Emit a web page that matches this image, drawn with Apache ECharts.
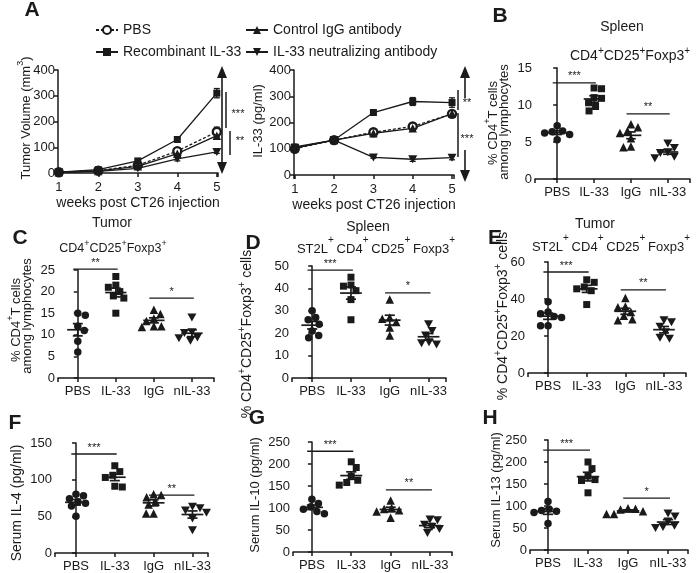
<!DOCTYPE html>
<html><head><meta charset="utf-8">
<script src="https://cdn.jsdelivr.net/npm/echarts@6/dist/echarts.min.js"></script>
<style>html,body{margin:0;padding:0;background:#fff}#c{width:696px;height:573px}</style>
</head><body><div id="c"></div>
<script>
const FONT = "'Liberation Sans', Arial, Helvetica, sans-serif";
const INK = '#1a1a1a';

// ---------- Panel A data ----------
const weeks = [1, 2, 3, 4, 5];
const lineNames = ['PBS', 'Recombinant IL-33', 'Control IgG antibody', 'IL-33 neutralizing antibody'];
const tumorPBS = [3, 9, 30, 85, 160];
const tumorPBSErr = [1, 2, 5, 10, 18];
const tumorIL33 = [3, 13, 47, 130, 310];
const tumorIL33Err = [1, 2, 5, 10, 18];
const tumorIgG = [3, 8, 26, 75, 145];
const tumorIgGErr = [1, 2, 4, 8, 12];
const tumorNIL33 = [2, 6, 18, 55, 82];
const tumorNIL33Err = [1, 1, 3, 8, 6];

const il33PBS = [100, 133, 163, 185, 233];
const il33PBSErr = [8, 5, 8, 10, 10];
const il33IL33 = [107, 133, 238, 280, 276];
const il33IL33Err = [8, 8, 8, 15, 18];
const il33IgG = [103, 133, 159, 178, 234];
const il33IgGErr = [8, 5, 10, 10, 10];
const il33NIL33 = [103, 133, 67, 60, 66];
const il33NIL33Err = [8, 5, 3, 8, 8];

// ---------- Dot plot data (PBS, IL-33, IgG, nIL-33) ----------
const groups = ['PBS', 'IL-33', 'IgG', 'nIL-33'];
const spleenTreg = [[7.2, 6.5, 6.4, 6.2, 6.0, 5.3], [12.3, 12.2, 11.0, 10.9, 10.3, 9.8, 9.2], [7.4, 7.0, 6.5, 6.2, 5.5, 4.4, 4.3], [4.8, 4.2, 3.6, 3.5, 3.0, 2.8]];
const spleenTregSig = [[0, 1, 13.0, '***'], [2, 3, 8.8, '**']];
const tumorTreg = [[15, 14.5, 12, 11, 8.5, 6], [23.5, 21.5, 21, 20, 19, 18.5, 15], [15.8, 14.8, 13.8, 13.2, 12, 12, 11.8], [14, 10.6, 10.4, 9.4, 9.2, 8.6]];
const tumorTregSig = [[0, 1, 25.2, '**'], [2, 3, 18.5, '*']];
const spleenST2 = [[30, 27, 26, 24, 21, 19, 18], [45, 41.5, 41, 39, 35, 26], [35, 27, 26.5, 25, 22.5, 19], [24, 21, 19, 16, 15.5, 15]];
const spleenST2Sig = [[0, 1, 48.2, '***'], [2, 3, 38, '*']];
const tumorST2 = [[38.5, 33, 32, 30.5, 30, 25.5, 25.5], [50.4, 49, 46.5, 45.5, 44.5, 37], [40.5, 36, 35.5, 33, 31, 29, 28.5], [28.5, 27.5, 25, 22, 19, 18.5]];
const tumorST2Sig = [[0, 1, 54.6, '***'], [2, 3, 44.9, '**']];
const serumIL4 = [[80, 78, 74, 70, 68, 64, 50], [119, 111, 106, 103, 91, 90], [80, 79, 76, 70, 66, 54, 54], [63, 61, 58, 55, 47, 31]];
const serumIL4Sig = [[0, 1, 135, '***'], [2, 3, 79, '**']];
const serumIL10 = [[120, 110, 103, 97, 92, 87], [205, 192, 172, 163, 158, 152], [117, 100, 98, 95, 92, 78], [74, 72, 62, 57, 52, 43]];
const serumIL10Sig = [[0, 1, 229, '***'], [2, 3, 141, '**']];
const serumIL13 = [[110, 93, 90, 88, 85, 60], [200, 185, 168, 160, 158, 130], [95, 94, 92, 88, 82, 82], [83, 76, 65, 55, 52, 50]];
const serumIL13Sig = [[0, 1, 227, '***'], [2, 3, 118, '*']];

// y-axis ticks per panel: [max, interval]
const yTicks = [[400, 100], [400, 100], [15, 5], [25, 5], [50, 10], [60, 20], [150, 50], [250, 50], [250, 50]];

// ---------- layout ----------
const layouts = [
  { left: 58, top: 70, width: 160, height: 103 },
  { left: 294, top: 70, width: 160, height: 105 },
  { left: 535, top: 68, width: 155, height: 111 },
  { left: 58, top: 270, width: 156, height: 108 },
  { left: 292, top: 266, width: 154, height: 112 },
  { left: 528, top: 262, width: 158, height: 111 },
  { left: 55, top: 443, width: 153, height: 110 },
  { left: 293, top: 442, width: 159, height: 110 },
  { left: 530, top: 440, width: 158, height: 110 }
];
const xRanges = [[0.98, 5.03], [0.98, 5.05], [-0.6, 3.6], [-0.52, 3.58], [-0.52, 3.45], [-0.52, 3.57], [-0.54, 3.4], [-0.48, 3.56], [-0.45, 3.5]];

const DOWN = 'path://M0,0L10,0L5,9Z';
const groupSymbols = ['circle', 'rect', 'triangle', DOWN];
const groupSizes = [7.5, 7, 8.5, [9, 8]];

const chart = echarts.init(document.getElementById('c'), null, { renderer: 'canvas' });

const grids = layouts.map(l => ({ left: l.left, top: l.top, width: l.width, height: l.height, containLabel: false }));

const axisLineStyle = { show: true, lineStyle: { color: INK, width: 1.5 } };
const axisTickStyle = { show: true, length: 4, inside: false, lineStyle: { color: INK, width: 1.5 } };

const xAxes = layouts.map((l, i) => ({
  type: 'value', gridIndex: i, min: xRanges[i][0], max: xRanges[i][1],
  minInterval: 1, maxInterval: 1,
  axisLine: axisLineStyle, axisTick: axisTickStyle, splitLine: { show: false },
  axisLabel: {
    color: INK, fontSize: 13, fontFamily: FONT, margin: i < 2 ? 8 : 7,
    formatter: v => {
      if (Math.abs(v - Math.round(v)) > 1e-6) return '';
      const r = Math.round(v);
      if (i < 2) return String(r);
      return (r >= 0 && r < 4) ? groups[r] : '';
    }
  },
  name: i < 2 ? 'weeks post CT26 injection' : '',
  nameLocation: 'middle', nameGap: 23,
  nameTextStyle: { color: INK, fontSize: 14, fontFamily: FONT }
}));

const yAxes = layouts.map((l, i) => ({
  type: 'value', gridIndex: i, min: 0, max: yTicks[i][0], interval: yTicks[i][1],
  axisLine: axisLineStyle, axisTick: axisTickStyle, splitLine: { show: false },
  axisLabel: { color: INK, fontSize: 13, fontFamily: FONT, margin: 3 }
}));

// ---------- helpers ----------
function meanSem(arr) {
  const n = arr.length;
  const m = arr.reduce((a, b) => a + b, 0) / n;
  const sd = Math.sqrt(arr.reduce((a, b) => a + (b - m) * (b - m), 0) / (n - 1));
  return [m, sd / Math.sqrt(n)];
}

function swarm(vals, center, gi) {
  const L = layouts[gi], xr = xRanges[gi];
  const pxX = L.width / (xr[1] - xr[0]);
  const pxY = L.height / yTicks[gi][0];
  const D = 7.5;
  const placed = [];
  return vals.map((v, k) => {
    const py = v * pxY;
    let best = 0;
    outer:
    for (let s = 0; s <= 40; s += 0.5) {
      const cands = s === 0 ? [0] : (k % 2 ? [s, -s] : [-s, s]);
      for (const off of cands) {
        if (placed.every(p => Math.hypot(p[0] - off, p[1] - py) >= D)) { best = off; break outer; }
      }
    }
    placed.push([best, py]);
    return [center + best / pxX, v];
  });
}

function errRender(params, api) {
  const x = api.value(0), y = api.value(1), e = api.value(2);
  const t = api.coord([x, y + e]), b = api.coord([x, y - e]);
  const w = 3;
  const st = { stroke: INK, lineWidth: 1.3 };
  return {
    type: 'group', children: [
      { type: 'line', shape: { x1: t[0], y1: t[1], x2: b[0], y2: b[1] }, style: st },
      { type: 'line', shape: { x1: t[0] - w, y1: t[1], x2: t[0] + w, y2: t[1] }, style: st },
      { type: 'line', shape: { x1: b[0] - w, y1: b[1], x2: b[0] + w, y2: b[1] }, style: st }
    ]
  };
}

function meanRender(params, api) {
  const x = api.value(0), m = api.value(1), s = api.value(2);
  const c = api.coord([x, m]);
  const t = api.coord([x, m + s]), b = api.coord([x, m - s]);
  const hw = api.size([0.28, 0])[0];
  const cw = api.size([0.13, 0])[0];
  const st = { stroke: INK, lineWidth: 1.7 };
  return {
    type: 'group', children: [
      { type: 'line', shape: { x1: c[0] - hw, y1: c[1], x2: c[0] + hw, y2: c[1] }, style: st },
      { type: 'line', shape: { x1: c[0], y1: t[1], x2: c[0], y2: b[1] }, style: st },
      { type: 'line', shape: { x1: c[0] - cw, y1: t[1], x2: c[0] + cw, y2: t[1] }, style: st },
      { type: 'line', shape: { x1: c[0] - cw, y1: b[1], x2: c[0] + cw, y2: b[1] }, style: st }
    ]
  };
}

function sigRenderFor(sig) {
  return function (params, api) {
    const row = sig[params.dataIndex];
    const a = api.coord([row[0] - 0.12, row[2]]);
    const b = api.coord([row[1] + 0.05, row[2]]);
    return {
      type: 'group', children: [
        { type: 'line', shape: { x1: a[0], y1: a[1], x2: b[0], y2: b[1] }, style: { stroke: INK, lineWidth: 1.3 } },
        { type: 'text', x: (a[0] + b[0]) / 2, y: a[1] - 1, style: { text: row[3], fill: INK, fontSize: 11, fontFamily: FONT, textAlign: 'center', textVerticalAlign: 'bottom' } }
      ]
    };
  };
}

// ---------- series ----------
const series = [];
const lineSets = [
  [[tumorPBS, tumorPBSErr], [tumorIL33, tumorIL33Err], [tumorIgG, tumorIgGErr], [tumorNIL33, tumorNIL33Err]],
  [[il33PBS, il33PBSErr], [il33IL33, il33IL33Err], [il33IgG, il33IgGErr], [il33NIL33, il33NIL33Err]]
];
const lineSymbols = ['circle', 'rect', 'triangle', DOWN];
const lineSymbolSizes = [8, 7, 8.5, [9, 8]];
lineSets.forEach((set, gi) => {
  set.forEach((pair, si) => {
    const [vals, errs] = pair;
    series.push({
      type: 'custom', xAxisIndex: gi, yAxisIndex: gi, renderItem: errRender, clip: false, silent: true, z: 2,
      data: weeks.map((w, k) => [w, vals[k], errs[k]])
    });
    series.push({
      type: 'line', name: lineNames[si], xAxisIndex: gi, yAxisIndex: gi, z: 3,
      data: weeks.map((w, k) => [w, vals[k]]),
      symbol: lineSymbols[si], symbolSize: lineSymbolSizes[si], showAllSymbol: true,
      lineStyle: { color: INK, width: 1.3, type: si === 0 ? [3, 2] : 'solid' },
      itemStyle: si === 0 ? { color: '#ffffff', borderColor: INK, borderWidth: 2.4, opacity: 1 } : { color: INK, borderWidth: 0, opacity: 1 }
    });
  });
});

const dotPanels = [
  [2, spleenTreg, spleenTregSig], [3, tumorTreg, tumorTregSig], [4, spleenST2, spleenST2Sig],
  [5, tumorST2, tumorST2Sig], [6, serumIL4, serumIL4Sig], [7, serumIL10, serumIL10Sig], [8, serumIL13, serumIL13Sig]
];
dotPanels.forEach(([gi, data, sig]) => {
  data.forEach((vals, g) => {
    series.push({
      type: 'scatter', name: 'p' + gi + '-' + groups[g], xAxisIndex: gi, yAxisIndex: gi, z: 3,
      symbol: groupSymbols[g], symbolSize: groupSizes[g],
      itemStyle: { color: INK, opacity: 1 },
      data: swarm(vals, g, gi)
    });
  });
  series.push({
    type: 'custom', xAxisIndex: gi, yAxisIndex: gi, renderItem: meanRender, clip: false, silent: true, z: 4,
    data: data.map((vals, g) => { const ms = meanSem(vals); return [g, ms[0], ms[1]]; })
  });
  series.push({
    type: 'custom', xAxisIndex: gi, yAxisIndex: gi, renderItem: sigRenderFor(sig), clip: false, silent: true, z: 4,
    data: sig.map(r => [r[0], r[2], r[1]])
  });
});

// ---------- text / annotations ----------
function rich(fs, supFs, lh, supLh) {
  return {
    n: { fontSize: fs, fontFamily: FONT, color: INK, lineHeight: lh },
    s: { fontSize: supFs, fontFamily: FONT, color: INK, lineHeight: supLh, verticalAlign: 'top' }
  };
}
function T(x, y, text, fs, opts) {
  opts = opts || {};
  return {
    type: 'text', x: x, y: y, rotation: opts.rot ? Math.PI / 2 : 0, silent: true,
    style: {
      text: text, fill: INK, fontSize: fs, fontFamily: FONT, fontWeight: opts.bold ? 'bold' : 'normal',
      textAlign: 'center', textVerticalAlign: 'middle', rich: opts.rich
    }
  };
}
const R1 = rich(14, 10, 20, 8);
const R2 = rich(13, 10, 28, 6);
const R12 = rich(12.5, 9, 20, 8);
const R13 = rich(13, 9, 20, 8);

const graphics = [
  T(32, 10, 'A', 21, { bold: true }), T(500, 16, 'B', 21, { bold: true }), T(20, 238, 'C', 21, { bold: true }),
  T(253, 243, 'D', 21, { bold: true }), T(495, 238, 'E', 21, { bold: true }), T(15, 423, 'F', 21, { bold: true }),
  T(257, 418, 'G', 21, { bold: true }), T(490, 418, 'H', 21, { bold: true }),
  // titles
  T(622, 27, 'Spleen', 14), T(630, 56, '{n|CD4}{s|+}{n|CD25}{s|+}{n|Foxp3}{s|+}', 14, { rich: R1 }),
  T(112, 223, 'Tumor', 14), T(113, 249, '{n|CD4}{s|+}{n|CD25}{s|+}{n|Foxp3}{s|+}', 12.5, { rich: R12 }),
  T(368, 227, 'Spleen', 14), T(376, 249, '{n|ST2L}{s|+ }{n|CD4}{s|+ }{n|CD25}{s|+ }{n|Foxp3}{s|+}', 13, { rich: R2 }),
  T(595, 224, 'Tumor', 14), T(611, 247, '{n|ST2L}{s|+ }{n|CD4}{s|+ }{n|CD25}{s|+ }{n|Foxp3}{s|+}', 13, { rich: R2 }),
  // y-axis names
  T(26, 118, '{n|Tumor Volume (mm}{s|3}{n|)}', 13, { rot: true, rich: R13 }),
  T(258, 121, 'IL-33 (pg/ml)', 13, { rot: true }),
  T(493, 123, '{n|% CD4}{s|+}{n|T cells}', 13, { rot: true, rich: R13 }),
  T(504, 122, 'among lymphocytes', 13, { rot: true }),
  T(16, 320, '{n|% CD4}{s|+}{n|T cells}', 13, { rot: true, rich: R13 }),
  T(27, 316, 'among lymphocytes', 13, { rot: true }),
  T(247, 334, '{n|% CD4}{s|+}{n|CD25}{s|+}{n|Foxp3}{s|+}{n| cells}', 14, { rot: true, rich: R1 }),
  T(503, 316, '{n|% CD4}{s|+}{n|CD25}{s|+}{n|Foxp3}{s|+}{n| cells}', 14, { rot: true, rich: R1 }),
  T(17, 503, 'Serum IL-4 (pg/ml)', 14, { rot: true }),
  T(255, 495, 'Serum IL-10 (pg/ml)', 13, { rot: true }),
  T(496, 490, 'Serum IL-13 (pg/ml)', 13, { rot: true })
];

function L(x1, y1, x2, y2, w) {
  return { type: 'line', silent: true, shape: { x1, y1, x2, y2 }, style: { stroke: INK, lineWidth: w || 1.5 } };
}
function head(x, tipY, dir) {
  return { type: 'polygon', silent: true, shape: { points: [[x, tipY], [x - 5, tipY - dir * 12], [x + 5, tipY - dir * 12]] }, style: { fill: INK } };
}
// panel A left annotations
graphics.push(L(222, 72, 222, 168, 1.6), head(222, 66, -1), head(222, 174, 1));
graphics.push(L(226, 92, 226, 128), L(230, 131, 230, 155));
graphics.push(T(238, 114, '***', 11), T(240, 141, '**', 11));
// panel A right annotations
graphics.push(L(465, 72, 465, 98, 1.6), head(465, 66, -1));
graphics.push(L(465, 150, 465, 176, 1.6), head(465, 182, 1));
graphics.push(L(458, 90, 458, 110), L(458, 113, 458, 157));
graphics.push(T(467, 103, '**', 11), T(467, 139, '***', 11));

const option = {
  animation: false,
  backgroundColor: '#ffffff',
  textStyle: { fontFamily: FONT },
  grid: grids,
  xAxis: xAxes,
  yAxis: yAxes,
  legend: [
    {
      data: [lineNames[0], lineNames[1]], orient: 'vertical', left: 90, top: 18, itemGap: 8,
      itemWidth: 22, itemHeight: 10, selectedMode: false,
      textStyle: { color: INK, fontSize: 14, fontFamily: FONT }
    },
    {
      data: [lineNames[2], lineNames[3]], orient: 'vertical', left: 240, top: 18, itemGap: 8,
      itemWidth: 22, itemHeight: 10, selectedMode: false,
      textStyle: { color: INK, fontSize: 14, fontFamily: FONT }
    }
  ],
  series: series,
  graphic: graphics
};
chart.setOption(option);
</script>
</body></html>
